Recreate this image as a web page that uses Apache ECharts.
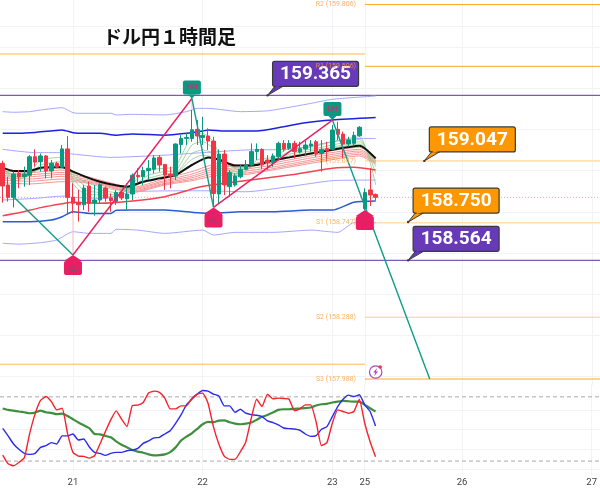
<!DOCTYPE html>
<html>
<head>
<meta charset="utf-8">
<style>html,body{margin:0;padding:0;background:#fff}#chart{width:600px;height:497px}</style>
<script src="https://cdn.jsdelivr.net/npm/echarts@6/dist/echarts.min.js"></script>
</head>
<body>
<div id="chart"></div>
<script>
// USD/JPY hourly candles: [open, close, low, high]
const candles = [
[159.035,158.925,158.844,159.048],[158.930,158.870,158.849,158.970],[158.870,158.983,158.821,158.995],[158.986,158.970,158.914,159.003],
[158.970,158.983,158.922,159.019],[158.977,159.067,158.930,159.075],[159.067,159.041,159.019,159.103],[159.043,159.071,158.995,159.083],
[159.071,158.998,158.962,159.075],[158.998,159.035,158.962,159.051],[159.035,159.016,159.011,159.043],[159.016,159.105,159.011,159.124],
[159.105,158.870,158.792,159.168],[158.870,158.841,158.792,158.938],[158.846,158.834,158.752,158.906],[158.834,158.915,158.808,158.930],
[158.925,158.841,158.800,158.946],[158.844,158.857,158.781,158.930],[158.857,158.931,158.841,158.938],[158.915,158.867,158.849,158.922],
[158.867,158.854,158.800,158.889],[158.850,158.893,158.833,158.906],[158.893,158.867,158.857,158.906],[158.863,158.886,158.808,158.938],
[158.886,158.977,158.857,158.986],[158.977,158.970,158.938,159.011],[158.970,159.000,158.930,159.019],[159.000,159.011,158.954,159.051],
[159.006,159.061,158.986,159.075],[159.064,159.027,158.995,159.075],[159.030,158.978,158.906,159.030],[158.983,158.973,158.914,159.019],
[158.973,159.129,158.954,159.132],[159.126,159.156,159.083,159.172],[159.156,159.161,159.124,159.181],[159.156,159.198,159.140,159.294],
[159.200,159.168,159.124,159.245],[159.161,159.171,159.124,159.261],[159.168,159.143,159.100,159.205],[159.143,158.889,158.825,159.164],
[158.886,159.080,158.841,159.103],[159.080,158.930,158.881,159.100],[158.922,158.990,158.873,159.003],[158.930,158.973,158.922,158.986],
[158.970,159.006,158.962,159.027],[159.006,159.027,159.003,159.051],[159.027,159.092,159.019,159.132],[159.092,159.103,159.051,159.132],
[159.103,159.027,159.006,159.108],[159.051,159.038,159.003,159.075],[159.038,159.071,159.019,159.083],[159.067,159.132,159.059,159.140],
[159.132,159.105,159.092,159.148],[159.108,159.132,159.100,159.148],[159.132,159.092,159.059,159.145],[159.090,159.106,159.083,159.140],
[159.105,159.124,159.071,159.145],[159.119,159.129,159.092,159.148],[159.140,159.080,159.067,159.148],[159.083,159.103,158.995,159.148],
[159.106,159.096,159.043,159.140],[159.103,159.197,159.100,159.221],[159.200,159.176,159.148,159.237],[159.177,159.129,159.059,159.189],
[159.129,159.148,159.116,159.164],[159.132,159.171,159.124,159.189],[159.169,159.210,159.164,159.216],[158.815,158.893,158.808,158.914],
[158.906,158.881,158.828,159.011],[158.884,158.870,158.854,158.889]
];

// Band envelopes: [bar, price]
const outerUpper = [[0,159.286],[2,159.283],[5,159.286],[7,159.294],[11,159.305],[13,159.281],[14,159.278],[20,159.278],[21,159.270],[24,159.273],[30,159.270],[34,159.286],[36,159.302],[38,159.302],[44,159.286],[49,159.290],[53,159.307],[57,159.326],[61,159.346],[69,159.362]];
const innerUpper = [[0,159.181],[3,159.181],[6,159.185],[11,159.197],[13,159.184],[15,159.181],[18,159.181],[21,159.172],[24,159.177],[30,159.172],[34,159.181],[37,159.192],[38,159.197],[41,159.192],[47,159.192],[52,159.213],[56,159.232],[61,159.245],[69,159.257]];
const softUpper = [[0,159.103],[6,159.087],[11,159.087],[13,159.080],[20,159.064],[30,159.075],[37,159.087],[45,159.100],[53,159.103],[61,159.140],[66,159.156],[69,159.156]];
const softLower = [[0,158.857],[6,158.865],[11,158.876],[13,158.870],[19,158.865],[24,158.897],[37,158.902],[45,158.897],[53,158.922],[61,158.951],[69,158.954]];
const innerLower = [[0,158.752],[5,158.752],[9,158.760],[11,158.776],[13,158.800],[16,158.792],[20,158.792],[21,158.807],[24,158.808],[30,158.808],[36,158.795],[39,158.792],[44,158.800],[50,158.800],[57,158.808],[61,158.808],[65,158.846],[69,158.852]];
const outerLower = [[0,158.647],[3,158.643],[7,158.650],[10,158.663],[13,158.703],[16,158.695],[20,158.695],[21,158.715],[25,158.711],[30,158.695],[37,158.711],[39,158.687],[43,158.700],[50,158.700],[57,158.711],[62,158.700],[65,158.747],[69,158.747]];

// Moving averages
const blackAverage = [[0,159.014],[2,158.998],[5,158.998],[7,159.014],[11,159.016],[13,158.995],[15,158.973],[18,158.946],[23,158.922],[26,158.946],[29,158.962],[32,158.978],[35,159.027],[38,159.064],[40,159.054],[43,159.024],[47,159.027],[50,159.051],[53,159.064],[59,159.092],[66,159.121],[69,159.059]];
const redAverage = [[0,158.781],[3,158.795],[7,158.820],[11,158.839],[13,158.846],[18,158.841],[24,158.852],[30,158.873],[34,158.902],[36,158.918],[41,158.938],[53,158.978],[61,159.011],[65,159.016],[69,159.003]];

const ribbonBars = [0,5,11,13,18,24,30,35,40,44,50,57,66,69];
const ribbonA = [158.998,158.990,159.003,158.990,158.954,158.918,158.961,158.995,159.035,159.027,159.048,159.080,159.113,159.064];
const ribbonB = [158.986,158.980,158.991,158.980,158.949,158.912,158.952,158.983,159.022,159.016,159.037,159.071,159.103,159.054];
const ribbonC = [158.975,158.970,158.982,158.970,158.944,158.907,158.946,158.973,159.011,159.006,159.027,159.061,159.095,159.048];
const ribbonD = [158.965,158.959,158.972,158.961,158.939,158.902,158.939,158.965,159.000,158.996,159.017,159.051,159.087,159.041];
const ribbonE = [158.954,158.948,158.959,158.954,158.935,158.897,158.935,158.957,158.988,158.986,159.009,159.043,159.079,159.037];
const ribbonF = [158.941,158.935,158.946,158.946,158.930,158.893,158.930,158.951,158.977,158.978,159.003,159.035,159.071,159.032];

const fanBars = [0,2,5,7,11,12,13,15,18,21,24,27,30,32,35,37,39,41,44,47,50,53,57,61,66,69];
const fanA = [159.019,158.946,158.986,159.051,159.064,159.051,158.938,158.889,158.881,158.870,158.938,159.003,159.011,159.019,159.172,159.181,159.140,159.019,158.973,159.051,159.064,159.108,159.113,159.140,159.164,158.930];
const fanB = [159.016,158.962,158.983,159.027,159.043,159.035,158.962,158.906,158.893,158.881,158.922,158.978,158.995,159.000,159.124,159.140,159.108,159.027,158.986,159.035,159.051,159.092,159.103,159.124,159.151,158.986];
const fanC = [159.011,158.973,158.983,159.011,159.027,159.022,158.978,158.930,158.906,158.893,158.918,158.962,158.983,158.986,159.083,159.100,159.083,159.035,159.003,159.027,159.043,159.080,159.095,159.113,159.140,159.019];
const fanD = [159.003,158.983,158.990,159.006,159.019,159.016,158.990,158.946,158.922,158.906,158.922,158.954,158.973,158.983,159.054,159.075,159.064,159.032,159.011,159.027,159.043,159.071,159.087,159.108,159.129,159.043];

// Swing structure and its projected leg
const zigzagDown1 = [[2,158.873],[13,158.590]];
const zigzagUp1 = [[13,158.590],[35,159.350]];
const zigzagDown2 = [[35,159.350],[39,158.821]];
const zigzagUp2 = [[39,158.821],[61,159.245]];
const zigzagDown3 = [[61,159.245],[79,157.988]];
const paleWicks = [[[13,158.792],[13,158.590]],[[35,159.294],[35,159.350]]];
const swingBars = [13,35,39,61,67];
const swingPrices = [158.590,159.350,158.821,159.245,158.808];
const swingNames = ['LL','HH','HL','LH','LL'];

// Pivot levels
const pivotLabels = ['R2 (159.806)','R1 (159.506)','P (159.047)','S1 (158.747)','S2 (158.288)','S3 (157.988)'];
const pivotValues = [159.806,159.506,159.047,158.747,158.288,157.988];
const priorPivots = [159.566,158.060];
const horizontalLevels = [159.365,158.564];
const lastPrice = 158.870;

// Price call-outs
const calloutValues = [159.365,159.047,158.750,158.564];
const calloutBars = [49,78,75,75];
const calloutColors = ['#673ab7','#ff9800','#ff9800','#673ab7'];

// Oscillator pane
const oscRed = [25.6,17.5,15.6,18.8,23.1,45.9,64.1,76.6,80.3,75.6,67.8,69.4,45.9,28.1,24.7,24.4,22.8,25.0,36.0,47.5,58.5,66.9,59.1,52.2,71.9,72.2,74.7,83.5,85.3,84.1,78.8,68.8,68.8,71.6,71.6,78.5,82.5,83.5,74.1,52.2,36.0,24.7,21.6,21.6,28.8,38.1,60.0,77.8,70.9,82.5,78.1,78.8,78.5,77.8,66.9,68.8,72.5,72.5,56.9,34.4,37.2,55.3,67.8,66.3,64.7,66.3,77.8,55.3,38.1,24.1];
const oscBlue = [50.6,43.5,36.0,31.0,27.2,26.3,27.2,32.8,34.4,37.2,36.0,43.5,43.5,45.3,39.7,40.6,33.4,28.1,27.2,25.3,27.2,28.1,28.1,29.7,30.3,31.9,36.6,38.8,41.6,42.2,45.3,48.4,55.3,63.1,72.5,77.8,82.5,85.9,85.3,82.5,80.9,71.6,71.6,65.6,68.4,64.7,63.4,62.8,61.6,57.5,56.0,53.8,50.9,50.3,50.0,48.8,45.3,43.1,43.8,49.7,52.2,61.6,70.9,77.8,81.6,80.3,81.9,72.5,66.3,52.8];
const oscGreen = [69.1,67.8,67.2,66.3,65.6,64.7,65.3,67.2,65.6,65.0,63.8,64.4,62.2,59.1,56.0,53.4,50.9,45.3,45.0,43.5,42.2,38.4,35.3,32.8,30.3,28.8,27.8,26.3,25.3,25.6,26.3,28.4,32.8,39.1,42.8,45.9,50.0,54.4,56.6,56.3,57.8,58.1,56.3,55.0,54.4,55.0,56.0,58.5,61.3,63.1,65.3,67.8,68.4,68.4,68.8,69.1,69.4,70.0,71.9,73.1,73.4,74.7,75.6,76.3,75.9,75.6,75.6,72.5,69.4,66.3];
const oscLevels = [80,20];

// Axis ticks
const dayBars = [13,37,61,67,85,109];
const dayLabels = ['21','22','23','25','26','27'];
const priceGrid = [159.7,159.6,159.4,159.2,159.0,158.8,158.6,158.4,158.2,158.0];
const oscGrid = [12.2,30.9,49.7,67.8];

const barFirst = -0.5, barLast = 110.5;
const zip = (xs, ys) => xs.map((x, k) => [x, ys[k]]);

function line(data, color, width, extra) {
  return Object.assign({
    type: 'line', data, showSymbol: false, silent: true, smooth: 0.2, z: 2,
    lineStyle: { color, width }, xAxisIndex: 0, yAxisIndex: 0
  }, extra || {});
}
const flat = (value, from, to, color, width, z) =>
  line([[from, value], [to, value]], color, width, { smooth: false, z: z || 1 });

// A rounded tag with a short pointer resting on the swing price.
function renderSwing(params, api) {
  const k = params.dataIndex, p = api.coord([api.value(0), api.value(1)]);
  const up = swingNames[k] === 'HH' || swingNames[k] === 'LH';
  const d = up ? -1 : 1;
  const fill = up ? '#089981' : '#e91e63';
  const textFill = up ? '#e91e63' : '#5c5f7a';
  const hw = 9, neck = (up ? 4 : 6) * d, far = (up ? 18 : 20) * d, tx = (up ? 11.5 : 13.5) * d;
  const top = Math.min(p[1] + neck, p[1] + far), h = Math.abs(far - neck);
  return {
    type: 'group', children: [
      { type: 'polygon', shape: { points: [[p[0], p[1]], [p[0] + (up ? 4 : hw), p[1] + neck], [p[0] - (up ? 4 : hw), p[1] + neck]] }, style: { fill } },
      { type: 'rect', shape: { x: p[0] - hw, y: top, width: 2 * hw, height: h, r: 2 }, style: { fill } },
      { type: 'text', style: { text: swingNames[k], x: p[0], y: p[1] + tx, fill: textFill, font: '8px Roboto', align: 'center', verticalAlign: 'middle' } }
    ]
  };
}

function renderCallout(params, api) {
  const k = params.dataIndex, p = api.coord([api.value(0), api.value(1)]);
  const bx = p[0] + 5, by = p[1] - 34, w = 86, h = 25;
  const fill = calloutColors[k];
  return {
    type: 'group', children: [
      { type: 'polygon', shape: { points: [[p[0], p[1]], [bx + 3, by + h - 1], [bx + 12, by + h - 1]] }, style: { fill, stroke: '#3a3a3a', lineWidth: 1 } },
      { type: 'rect', shape: { x: bx, y: by, width: w, height: h, r: 2 }, style: { fill, stroke: '#3a3a3a', lineWidth: 1.2 } },
      { type: 'polygon', shape: { points: [[bx + 3.5, by + h - 1.5], [bx + 11.5, by + h - 1.5], [bx + 3.5, by + h + 1]] }, style: { fill } },
      { type: 'circle', shape: { cx: p[0], cy: p[1], r: 1.2 }, style: { fill: '#3a3a3a' } },
      { type: 'text', style: { text: calloutValues[k].toFixed(3), x: bx + w / 2, y: by + h / 2 + 0.5, fill: '#fff', font: 'bold 19px Roboto', align: 'center', verticalAlign: 'middle' } }
    ]
  };
}

function renderBolt(params, api) {
  const p = api.coord([api.value(0), api.value(1)]);
  const x = p[0], y = p[1];
  return {
    type: 'group', children: [
      { type: 'circle', shape: { cx: x, cy: y, r: 6.2 }, style: { fill: '#fff', stroke: '#ab47bc', lineWidth: 1.2 } },
      { type: 'polygon', shape: { points: [[x + 1.5, y - 4], [x - 2.5, y + 0.6], [x - 0.3, y + 0.6], [x - 1.5, y + 4], [x + 2.5, y - 0.6], [x + 0.3, y - 0.6]] }, style: { fill: '#ab47bc' } },
      { type: 'circle', shape: { cx: x + 4.5, cy: y - 5, r: 1.8 }, style: { fill: '#f23645' } }
    ]
  };
}

const series = [];

priorPivots.forEach(v => series.push(flat(v, barFirst, 67, '#ffb74d', 1)));
series.push(flat(pivotValues[0], 67, barLast, '#ffa726', 1));
series.push(flat(pivotValues[1], 67, barLast, '#ffa726', 1));
series.push(flat(pivotValues[2], 67, barLast, '#ffe0b2', 1.6));
series.push(flat(pivotValues[3], 67, barLast, '#ffe0b2', 1.6));
series.push(flat(pivotValues[4], 67, barLast, '#ffcc80', 1));
series.push(flat(pivotValues[5], 67, barLast, '#ffa726', 1));
horizontalLevels.forEach(v => series.push(flat(v, barFirst, barLast, '#7e57c2', 1.4, 2)));
series.push(line([[barFirst, lastPrice], [barLast, lastPrice]], '#f7a0a8', 1, { smooth: false, lineStyle: { color: '#f7a0a8', width: 1, type: [1, 2] } }));

[outerUpper, softUpper, softLower, outerLower].forEach(d => series.push(line(d, '#a3a6ff', 1)));
series.push(line(innerUpper, '#1c22dc', 1.5));
series.push(line(innerLower, '#2a5ccf', 1.5));

[ribbonA, ribbonB, ribbonC, ribbonD, ribbonE, ribbonF].forEach(v => series.push(line(zip(ribbonBars, v), '#f89494', 1)));
[fanA, fanB, fanC, fanD].forEach(v => series.push(line(zip(fanBars, v), '#93c68d', 0.8)));
series.push(line(redAverage, '#f2434f', 1.5));
series.push(line(blackAverage, '#111', 2));

paleWicks.forEach(d => series.push(line(d, '#f9c0c8', 1, { smooth: false })));
series.push({
  type: 'candlestick', xAxisIndex: 0, yAxisIndex: 0, z: 3, silent: true, barWidth: 4,
  data: candles.map((c, i) => [i].concat(c)),
  encode: { x: 0, y: [1, 2, 3, 4] },
  itemStyle: { color: '#089981', color0: '#f23645', borderColor: '#089981', borderColor0: '#f23645', borderWidth: 1 }
});

[zigzagDown1, zigzagDown2, zigzagDown3].forEach(d => series.push(line(d, '#0f9d8a', 1.4, { smooth: false, z: 4 })));
[zigzagUp1, zigzagUp2].forEach(d => series.push(line(d, '#e91e63', 1.4, { smooth: false, z: 4 })));

series.push({
  type: 'custom', xAxisIndex: 0, yAxisIndex: 0, z: 5, silent: true, clip: false,
  data: zip(swingBars, swingPrices), encode: { x: 0, y: 1 }, renderItem: renderSwing
});
series.push({
  type: 'custom', xAxisIndex: 0, yAxisIndex: 0, z: 6, silent: true, clip: false,
  data: zip(calloutBars, calloutValues), encode: { x: 0, y: 1 }, renderItem: renderCallout
});
series.push({
  type: 'custom', xAxisIndex: 0, yAxisIndex: 0, z: 6, silent: true, clip: false,
  data: [[69, 158.022]], encode: { x: 0, y: 1 }, renderItem: renderBolt
});
series.push({
  type: 'scatter', xAxisIndex: 0, yAxisIndex: 0, z: 7, silent: true, symbolSize: 0,
  data: pivotValues.map((v, k) => ({ value: [65, v], label: { formatter: pivotLabels[k] } })),
  label: { show: true, position: 'left', distance: -2, color: '#ffa033', fontSize: 7, fontFamily: 'Roboto' }
});

const osc = { xAxisIndex: 1, yAxisIndex: 1, smooth: 0.15 };
series.push(line(oscGreen.map((v, i) => [i, v]), '#3f8f3f', 2.2, osc));
series.push(line(oscBlue.map((v, i) => [i, v]), '#2a2af0', 1.4, osc));
series.push(line(oscRed.map((v, i) => [i, v]), '#f5222d', 1.4, osc));
oscLevels.forEach(v => series.push(line([[barFirst, v], [barLast, v]], '#aaa', 1, {
  xAxisIndex: 1, yAxisIndex: 1, smooth: false, z: 1, lineStyle: { color: '#aaa', width: 1, type: [4, 3] }
})));

const chart = echarts.init(document.getElementById('chart'), null, { renderer: 'canvas' });
const gridLine = { show: true, lineStyle: { color: '#f2f3f6', width: 1 } };
const xBase = {
  type: 'value', min: barFirst, max: barLast,
  axisLine: { show: false },
  axisTick: { show: false, customValues: dayBars },
  splitLine: gridLine
};
chart.setOption({
  animation: false,
  backgroundColor: '#fff',
  title: {
    text: 'ドル円１時間足', left: 98, top: 22,
    textStyle: { fontFamily: '"Noto Sans CJK JP"', fontWeight: 'bold', fontSize: 19, color: '#111' }
  },
  grid: [
    { left: 0, right: 0, top: 0, height: 385 },
    { left: 0, right: 0, top: 384, height: 91 }
  ],
  xAxis: [
    Object.assign({ gridIndex: 0, axisLabel: { show: false, customValues: dayBars } }, xBase),
    Object.assign({
      gridIndex: 1,
      axisLabel: {
        customValues: dayBars, color: '#444', fontSize: 9.5, fontFamily: 'Roboto', margin: 3,
        formatter: v => dayLabels[dayBars.indexOf(v)]
      }
    }, xBase)
  ],
  yAxis: [
    { type: 'value', gridIndex: 0, min: 157.959, max: 159.828, axisLine: { show: false }, axisLabel: { show: false, customValues: priceGrid }, axisTick: { show: false, customValues: priceGrid }, splitLine: gridLine },
    { type: 'value', gridIndex: 1, min: 7, max: 92, axisLine: { show: false }, axisLabel: { show: false, customValues: oscGrid }, axisTick: { show: false, customValues: oscGrid }, splitLine: gridLine }
  ],
  series
});
</script>
</body>
</html>
